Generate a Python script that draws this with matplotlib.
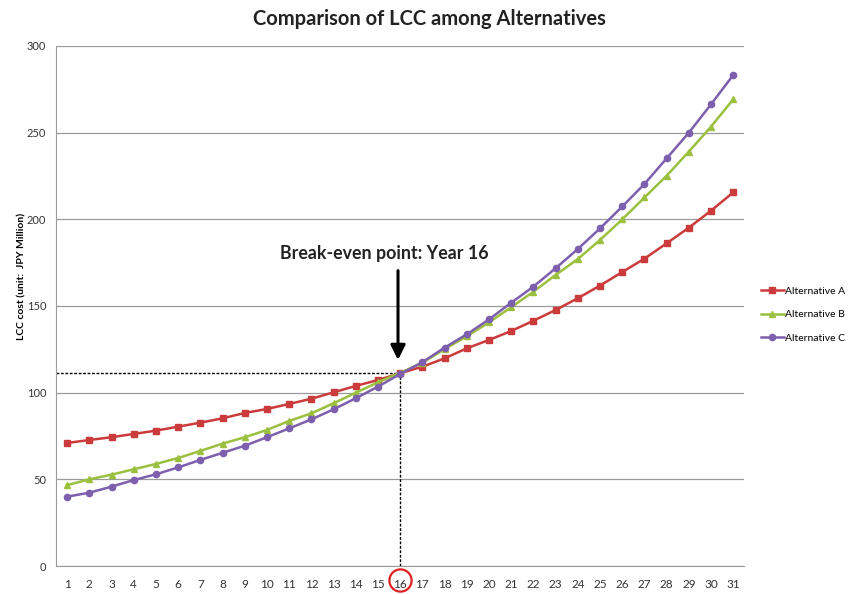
import matplotlib.pyplot as plt
from matplotlib.transforms import blended_transform_factory

plt.rcParams['font.family'] = ['Lato', 'DejaVu Sans']

# LCC per year for each alternative (JPY million)
years = list(range(1, 32))
alt_a = [71.0, 72.7, 74.3, 76.2, 78.1, 80.4, 82.7, 85.2, 88.3, 90.6,
         93.5, 96.5, 100.2, 103.9, 107.3, 111.2, 115.0, 119.8, 125.6, 130.4,
         135.6, 141.5, 147.7, 154.5, 161.8, 169.6, 177.3, 186.2, 195.2, 205.0,
         215.6]
alt_b = [46.7, 50.0, 52.7, 55.8, 58.9, 62.3, 66.4, 70.6, 74.3, 78.5,
         83.7, 88.1, 93.9, 100.0, 106.0, 111.5, 117.2, 125.2, 132.5, 140.6,
         149.3, 158.3, 167.9, 177.1, 188.1, 200.0, 212.6, 225.2, 239.1, 253.5,
         269.3]
alt_c = [40.0, 42.3, 45.8, 49.6, 52.9, 56.9, 61.2, 65.3, 69.4, 74.3,
         79.4, 84.6, 90.4, 96.8, 103.5, 110.8, 117.6, 126.0, 133.7, 142.3,
         151.9, 161.2, 171.8, 182.9, 194.8, 207.4, 220.4, 235.2, 250.0, 266.4,
         283.3]
names = ['Alternative A', 'Alternative B', 'Alternative C']
break_year = 16
break_value = 111.3

fig = plt.figure(figsize=(8.53, 5.94), dpi=100)
ax = fig.add_axes([0.0657, 0.0471, 0.807, 0.8755])

styles = [('#CC3B3B', 's'), ('#9BC03F', '^'), ('#7E5FAE', 'o')]
for vals, name, (col, mk) in zip([alt_a, alt_b, alt_c], names, styles):
    ax.plot(years, vals, color=col, marker=mk, markersize=4.5, linewidth=1.8,
            label=name, zorder=3)

ax.set_xlim(0.5, 31.5)
ax.set_ylim(0, 300)
ax.set_yticks(range(0, 301, 50))
ax.set_xticks(years)
ax.grid(axis='y', color='#9a9a9a', linewidth=0.9)
ax.set_axisbelow(True)
for side in ['top', 'right']:
    ax.spines[side].set_visible(False)
for side in ['left', 'bottom']:
    ax.spines[side].set_color('#9a9a9a')
ax.tick_params(axis='both', length=0, labelsize=8.5, colors='#333333')
ax.tick_params(axis='y', labelsize=8)
ax.tick_params(axis='x', pad=9)
ax.tick_params(axis='y', pad=7)

ax.set_ylabel('LCC cost (unit:  JPY Million)', fontsize=7.5, fontweight='bold')
ax.yaxis.set_label_coords(-0.043, 0.556)
fig.suptitle('Comparison of LCC among Alternatives', x=0.503, y=0.985,
             fontsize=14.5, fontweight='bold', color='#222222')

# break-even guides
ax.plot([0.5, break_year], [break_value, break_value], color='black',
        linestyle=(0, (2, 1.2)), linewidth=1, zorder=2)
ax.plot([break_year, break_year], [0, break_value], color='black',
        linestyle=(0, (2, 1.2)), linewidth=1, zorder=2)
ax.annotate('', xy=(break_year - 0.1, break_value + 6),
            xytext=(break_year - 0.1, 172),
            arrowprops=dict(arrowstyle='-|>', color='black', lw=2.2,
                            mutation_scale=22))
ax.text(break_year - 0.7, 180, 'Break-even point: Year 16', ha='center',
        va='center', fontsize=12.8, fontweight='bold', color='#222222')

# circle round the break-even year label
trans = blended_transform_factory(ax.transData, ax.transAxes)
ax.plot([break_year], [-0.027], marker='o', markersize=16, mfc='none',
        mec='#E02020', mew=1.6, transform=trans, clip_on=False)

ax.legend(loc='center left', bbox_to_anchor=(0.892, 0.47),
          bbox_transform=fig.transFigure, frameon=False, fontsize=7.5,
          borderpad=0, borderaxespad=0, handlelength=2.2, handletextpad=0.1,
          labelspacing=1.35)

fig.savefig('out.png', dpi=100)
